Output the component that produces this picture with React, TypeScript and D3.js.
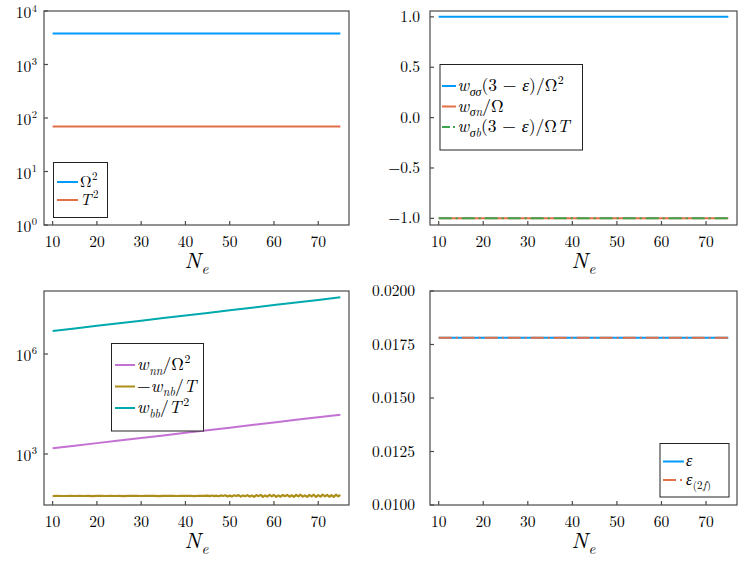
import React from 'react';
import * as d3 from 'd3';

// shared x axis
const xTicks = [10, 20, 30, 40, 50, 60, 70];
const xDomain: [number, number] = [8.05, 76.95];

// top-left: Omega^2 and T^2
const neEnds = [10, 75];
const omega2 = [3800, 3800];
const tSquared = [69, 69];
const p1Ticks = [1, 10, 100, 1000, 10000];

// top-right: normalised w_sigma*
const wss = [1, 1];
const wsn = [-1, -1];
const wsb = [-1, -1];
const p2Ticks = [-1, -0.5, 0, 0.5, 1];

// bottom-left: w_nn, w_nb, w_bb
const neGrid = [10, 15, 20, 25, 30, 35, 40, 45, 50, 55, 60, 65, 70, 75];
const wnn = [1480, 1770, 2120, 2530, 3030, 3610, 4330, 5170, 6180, 7390, 8840, 10570, 12640, 15100];
const wbb = [4.9e6, 5.86e6, 7.0e6, 8.37e6, 1.0e7, 1.2e7, 1.43e7, 1.71e7, 2.05e7, 2.45e7, 2.93e7, 3.5e7, 4.19e7, 5.0e7];
// -w_nb/T is sampled every 1 up to 44, then every 0.5 where it gets noisy
const neNb = [...d3.range(10, 45, 1), ...d3.range(45, 75.25, 0.5)];
const wnb = [
  55.0, 55.1, 54.9, 55.0, 55.2, 54.9, 55.1, 55.0, 55.2, 54.8, 55.1, 55.3, 54.9, 55.2, 55.0,
  55.4, 54.8, 55.3, 55.1, 55.5, 54.9, 55.4, 55.2, 55.6, 54.8, 55.5, 55.1, 55.7, 54.9, 55.6,
  55.3, 56.0, 54.7, 55.9, 55.2,
  56.3, 54.4, 56.9, 54.6, 56.1, 53.8, 57.2, 54.9, 57.6, 53.5, 56.4, 53.2, 57.8, 54.7, 58.4,
  52.6, 57.1, 53.9, 58.3, 52.8, 56.6, 52.1, 58.7, 54.3, 59.4, 52.0, 57.2, 52.7, 59.6, 53.8,
  59.0, 51.9, 57.4, 52.4, 58.9, 54.1, 59.5, 52.3, 57.8, 52.0, 59.3, 53.6, 59.9, 52.5, 57.6,
  51.9, 59.4, 53.7, 60.0, 51.6, 58.1, 52.4, 60.3, 53.9, 59.1, 52.1, 57.9, 51.7, 60.1, 53.3,
  58.8,
];
const p3Ticks = [1e3, 1e6];

// bottom-right: epsilon
const eps = [0.01781, 0.01781];
const eps2f = [0.01781, 0.01781];
const p4Ticks = [0.01, 0.0125, 0.015, 0.0175, 0.02];

const C = {
  blue: '#009AFA',
  orange: '#E36F47',
  green: '#3EA44E',
  purple: '#C371D2',
  olive: '#AC8E18',
  teal: '#00A9AD',
};

const FONT = 'Latin Modern Roman';
const FRAME = '#4a4a4a';
const DASHDOT = '13 4 2 4';

type Seg = { t: string; i?: boolean; sub?: boolean; sup?: boolean };

const MathText = ({ x, y, segs, size, anchor = 'start' }: { x: number; y: number; segs: Seg[]; size: number; anchor?: string }) => {
  let cur = 0;
  return (
    <text x={x} y={y} textAnchor={anchor} fill="#000" style={{ fontFamily: FONT, fontSize: size }}>
      {segs.map((s, k) => {
        const target = s.sub ? size * 0.25 : s.sup ? -size * 0.42 : 0;
        const dy = target - cur;
        cur = target;
        const prev = segs[k - 1];
        const dx = s.sup && prev && prev.i ? size * 0.1 : s.sup || s.sub ? size * 0.03 : 0;
        return (
          <tspan
            key={k}
            dy={dy}
            dx={dx}
            style={{ fontSize: s.sub || s.sup ? size * 0.68 : size, fontStyle: s.i ? 'italic' : 'normal' }}
          >
            {s.t}
          </tspan>
        );
      })}
    </text>
  );
};

type Frame = { x0: number; x1: number; y0: number; y1: number };

type Series = { xs: number[]; ys: number[]; color: string; dash?: string; width?: number };

type LegendItem = { color: string; dash?: string; label: Seg[] };

type LegendBox = {
  x0: number; x1: number; y0: number; y1: number;
  lineX0: number; lineX1: number; textX: number; rows: number[]; size: number; items: LegendItem[];
};

const Panel = ({
  f, y, yTicks, yLabel, gap, series, legend,
}: {
  f: Frame;
  y: d3.ScaleContinuousNumeric<number, number>;
  yTicks: number[];
  yLabel: (v: number) => Seg[];
  gap: number;
  series: Series[];
  legend: LegendBox;
}) => {
  const x = d3.scaleLinear().domain(xDomain).range([f.x0, f.x1]);
  const line = (s: Series) =>
    d3.line<number>()
      .x((_, k) => x(s.xs[k]))
      .y((v) => y(v))(s.ys) || '';
  const isLog = yLabel(1).length > 1;
  return (
    <g>
      {series.map((s, k) => (
        <path key={k} d={line(s)} fill="none" stroke={s.color} strokeWidth={s.width ?? 2} strokeDasharray={s.dash} strokeLinejoin="round" />
      ))}
      <rect x={f.x0} y={f.y0} width={f.x1 - f.x0} height={f.y1 - f.y0} fill="none" stroke={FRAME} strokeWidth={1.2} />
      {xTicks.map((t) => (
        <g key={t}>
          <line x1={x(t)} x2={x(t)} y1={f.y1} y2={f.y1 - 4} stroke={FRAME} strokeWidth={1.2} />
          <text x={x(t)} y={f.y1 + 21.5} textAnchor="middle" style={{ fontFamily: FONT, fontSize: 15.5 }}>{t}</text>
        </g>
      ))}
      {yTicks.map((t) => (
        <g key={t}>
          <line x1={f.x0} x2={f.x0 + 4} y1={y(t)} y2={y(t)} stroke={FRAME} strokeWidth={1.2} />
          <MathText x={f.x0 - gap} y={y(t) + (isLog ? 7 : 5)} segs={yLabel(t)} size={15.5} anchor="end" />
        </g>
      ))}
      <MathText
        x={(f.x0 + f.x1) / 2}
        y={f.y1 + 43}
        size={22}
        anchor="middle"
        segs={[{ t: 'N', i: true }, { t: 'e', i: true, sub: true }]}
      />
      <rect x={legend.x0} y={legend.y0} width={legend.x1 - legend.x0} height={legend.y1 - legend.y0} fill="#fff" stroke="#222" strokeWidth={1} />
      {legend.items.map((it, k) => (
        <g key={k}>
          <line x1={legend.lineX0} x2={legend.lineX1} y1={legend.rows[k]} y2={legend.rows[k]} stroke={it.color} strokeWidth={2} strokeDasharray={it.dash} />
          <MathText x={legend.textX} y={legend.rows[k] + legend.size * 0.3} segs={it.label} size={legend.size} />
        </g>
      ))}
    </g>
  );
};

const logLabel = (v: number): Seg[] => [{ t: '10' }, { t: String(Math.round(Math.log10(v))), sup: true }];
const fixed = (d: number) => (v: number): Seg[] => [{ t: (v < 0 ? '−' : '') + Math.abs(v).toFixed(d) }];

export default function App() {
  const f1 = { x0: 44, x1: 349, y0: 11, y1: 225 };
  const f2 = { x0: 430, x1: 737, y0: 11, y1: 225 };
  const f3 = { x0: 44, x1: 349, y0: 291, y1: 505 };
  const f4 = { x0: 430, x1: 737, y0: 291, y1: 505 };

  const y1 = d3.scaleLog().domain([1, 1e4]).range([f1.y1, f1.y0]);
  const y2 = d3.scaleLinear().domain([-1.066, 1.058]).range([f2.y1, f2.y0]);
  const y3 = d3.scaleLog().domain([Math.pow(10, 1.47), Math.pow(10, 7.89)]).range([f3.y1, f3.y0]);
  const y4 = d3.scaleLinear().domain([0.01, 0.02]).range([f4.y1, f4.y0]);

  return (
    <svg
      width={747}
      height={561}
      style={{ position: 'absolute', left: 0, top: 0, background: '#fff', fontFamily: FONT }}
    >
      <Panel
        f={f1}
        y={y1}
        yTicks={p1Ticks}
        yLabel={logLabel}
        gap={7}
        series={[
          { xs: neEnds, ys: omega2, color: C.blue },
          { xs: neEnds, ys: tSquared, color: C.orange },
        ]}
        legend={{
          x0: 53.5, x1: 107.5, y0: 162.5, y1: 217.5, lineX0: 57, lineX1: 78, textX: 80, rows: [182, 200], size: 16,
          items: [
            { color: C.blue, label: [{ t: 'Ω' }, { t: '2', sup: true }] },
            { color: C.orange, label: [{ t: 'T', i: true }, { t: '2', sup: true }] },
          ],
        }}
      />
      <Panel
        f={f2}
        y={y2}
        yTicks={p2Ticks}
        yLabel={fixed(1)}
        gap={10}
        series={[
          { xs: neEnds, ys: wss, color: C.blue },
          { xs: neEnds, ys: wsn, color: C.orange },
          { xs: neEnds, ys: wsb, color: C.green, dash: DASHDOT },
        ]}
        legend={{
          x0: 440, x1: 582.5, y0: 64.5, y1: 150, lineX0: 442, lineX1: 456, textX: 457.5, rows: [86, 106.5, 127], size: 17.5,
          items: [
            { color: C.blue, label: [{ t: 'w', i: true }, { t: 'σσ', i: true, sub: true }, { t: '(3 − ' }, { t: 'ε', i: true }, { t: ')/Ω' }, { t: '2', sup: true }] },
            { color: C.orange, label: [{ t: 'w', i: true }, { t: 'σn', i: true, sub: true }, { t: '/Ω' }] },
            { color: C.green, dash: '8 3 2 3', label: [{ t: 'w', i: true }, { t: 'σb', i: true, sub: true }, { t: '(3 − ' }, { t: 'ε', i: true }, { t: ')/Ω' }, { t: 'T', i: true }] },
          ],
        }}
      />
      <Panel
        f={f3}
        y={y3}
        yTicks={p3Ticks}
        yLabel={logLabel}
        gap={7}
        series={[
          { xs: neGrid, ys: wnn, color: C.purple },
          { xs: neNb, ys: wnb, color: C.olive, width: 2.2 },
          { xs: neGrid, ys: wbb, color: C.teal },
        ]}
        legend={{
          x0: 111.5, x1: 203.5, y0: 343.5, y1: 431, lineX0: 115, lineX1: 135, textX: 137, rows: [365, 386.5, 408], size: 17.5,
          items: [
            { color: C.purple, label: [{ t: 'w', i: true }, { t: 'nn', i: true, sub: true }, { t: '/Ω' }, { t: '2', sup: true }] },
            { color: C.olive, label: [{ t: '−' }, { t: 'w', i: true }, { t: 'nb', i: true, sub: true }, { t: '/' }, { t: 'T', i: true }] },
            { color: C.teal, label: [{ t: 'w', i: true }, { t: 'bb', i: true, sub: true }, { t: '/' }, { t: 'T', i: true }, { t: '2', sup: true }] },
          ],
        }}
      />
      <Panel
        f={f4}
        y={y4}
        yTicks={p4Ticks}
        yLabel={fixed(4)}
        gap={15}
        series={[
          { xs: neEnds, ys: eps, color: C.blue },
          { xs: neEnds, ys: eps2f, color: C.orange, dash: DASHDOT },
        ]}
        legend={{
          x0: 660, x1: 729, y0: 443.5, y1: 497, lineX0: 663, lineX1: 684, textX: 686, rows: [461.5, 480], size: 16,
          items: [
            { color: C.blue, label: [{ t: 'ε', i: true }] },
            { color: C.orange, dash: DASHDOT, label: [{ t: 'ε', i: true }, { t: '(2', sub: true }, { t: 'f', i: true, sub: true }, { t: ')', sub: true }] },
          ],
        }}
      />
    </svg>
  );
}
